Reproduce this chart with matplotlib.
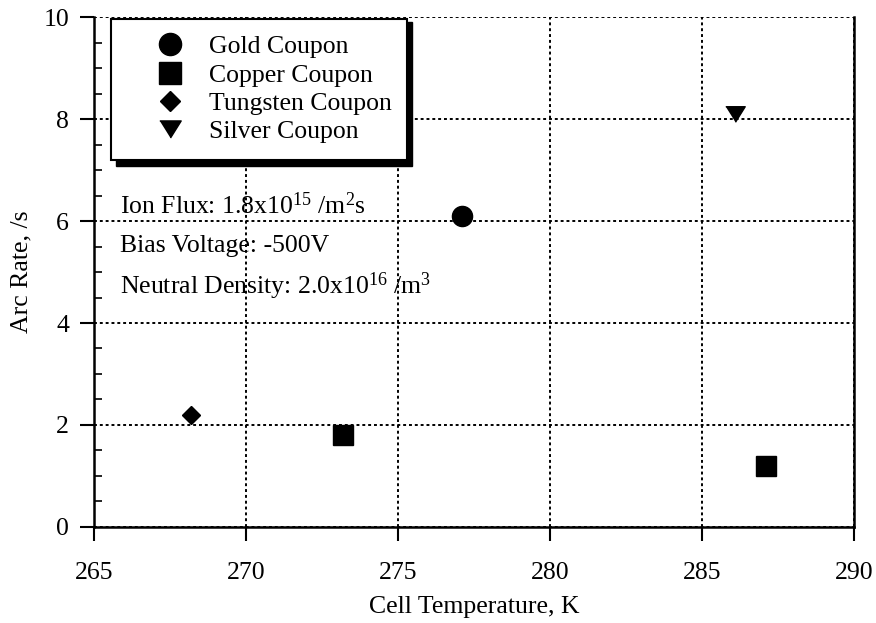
import matplotlib
matplotlib.use('Agg')
import matplotlib.pyplot as plt
from matplotlib.patches import Rectangle

plt.rcParams['font.family'] = ['Liberation Serif', 'DejaVu Serif']
plt.rcParams['mathtext.fontset'] = 'custom'
plt.rcParams['mathtext.rm'] = 'Liberation Serif'
plt.rcParams['mathtext.it'] = 'Liberation Serif:italic'

# coupon measurements: cell temperature (K) vs arc rate (/s)
gold_temp = [277.1]
gold_rate = [6.1]
copper_temp = [273.2, 287.1]
copper_rate = [1.8, 1.2]
tungsten_temp = [268.2]
tungsten_rate = [2.2]
silver_temp = [286.1]
silver_rate = [8.1]

x_ticks = [265, 270, 275, 280, 285, 290]
y_ticks = [0, 2, 4, 6, 8, 10]

notes = [r'Ion Flux: 1.8x10$^{15}$ /m$^2$s',
         'Bias Voltage: -500V',
         r'Neutral Density: 2.0x10$^{16}$ /m$^3$']

tri_down = [(-1, 0.8), (1, 0.8), (0, -0.8)]
FS = 18.5


def main():
    fig = plt.figure(figsize=(8.76, 6.23), dpi=100)
    ax = fig.add_axes([0.1073, 0.1541, 0.8676, 0.8186])

    ax.plot(gold_temp, gold_rate, 'o', color='black', ms=14.5, label='Gold Coupon', zorder=5)
    ax.plot(copper_temp, copper_rate, 's', color='black', ms=14, label='Copper Coupon', zorder=5)
    ax.plot(tungsten_temp, tungsten_rate, 'D', color='black', ms=9.5, label='Tungsten Coupon', zorder=5)
    ax.plot(silver_temp, silver_rate, marker=tri_down, ls='none', color='black', ms=14,
            label='Silver Coupon', zorder=5)

    ax.set_xlim(265, 290)
    ax.set_ylim(0, 10)
    ax.set_xticks(x_ticks)
    ax.set_yticks(y_ticks)
    ax.set_yticks([v / 2 for v in range(21)], minor=True)
    ax.tick_params(axis='both', which='major', direction='out', length=10, width=1.5,
                   labelsize=FS, color='black')
    ax.tick_params(axis='x', pad=15)
    ax.tick_params(axis='y', pad=8)
    ax.tick_params(axis='y', which='minor', direction='in', length=6, width=1.2)
    ax.tick_params(axis='x', which='minor', bottom=False)

    ax.grid(True, which='major', ls=(0, (1.5, 1.5)), lw=1.4, color='black')
    ax.spines['top'].set_visible(False)
    for side in ['left', 'bottom', 'right']:
        ax.spines[side].set_linewidth(1.8)

    ax.set_xlabel('Cell Temperature, K', fontsize=FS, labelpad=9)
    ax.set_ylabel('Arc Rate, /s', fontsize=FS, labelpad=8)

    # legend box with solid drop shadow
    ax.add_patch(Rectangle((0.029, 0.707), 0.39, 0.283, transform=ax.transAxes,
                           facecolor='black', edgecolor='black', zorder=6, clip_on=False))
    ax.add_patch(Rectangle((0.022, 0.72), 0.39, 0.277, transform=ax.transAxes,
                           facecolor='white', edgecolor='black', lw=1.5, zorder=7, clip_on=False))
    leg = ax.legend(loc='upper left', bbox_to_anchor=(0.07, 0.984), frameon=False,
                    fontsize=FS, handletextpad=1.0, labelspacing=0.2, handlelength=1.0,
                    borderaxespad=0, markerscale=1.1)
    leg.set_zorder(8)

    for i, note in enumerate(notes):
        ax.text(0.034, 0.63 - i * 0.079, note, transform=ax.transAxes, fontsize=FS,
                va='center', ha='left', zorder=8)

    fig.savefig('out.png', dpi=100)


if __name__ == '__main__':
    main()
